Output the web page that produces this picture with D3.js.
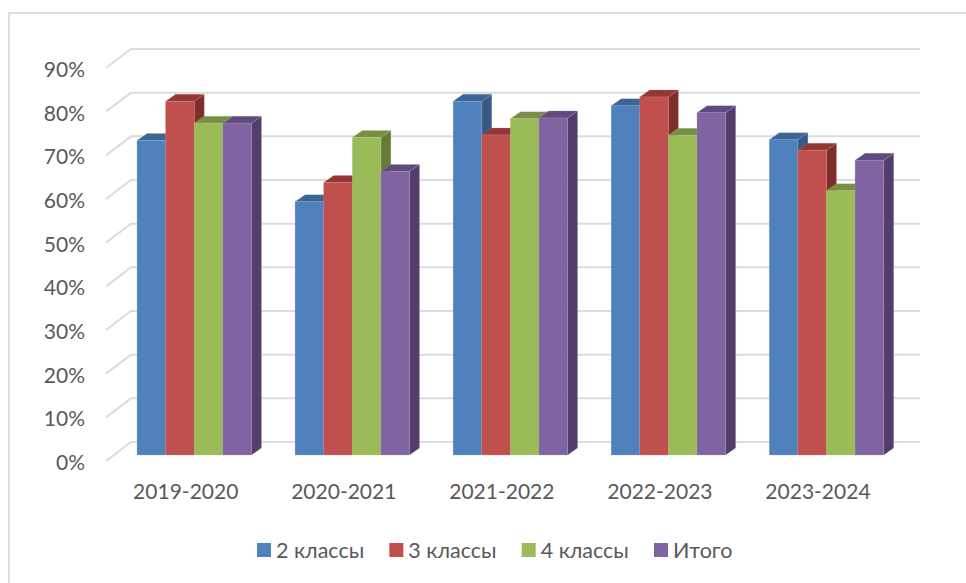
<!DOCTYPE html>
<html><head><meta charset="utf-8">
<script src="https://cdn.jsdelivr.net/npm/d3@7"></script>
<style>
html,body{margin:0;padding:0;background:#fff;overflow:hidden}
text{font-family:"Lato","Noto Sans",sans-serif;fill:#595959}
</style></head><body><svg id="c" width="966" height="583"></svg>
<script>
const categories = ["2019-2020","2020-2021","2021-2022","2022-2023","2023-2024"];
const seriesNames = ["2 классы","3 классы","4 классы","Итого"];
const klass2 = [72, 58, 81, 80, 72.2];
const klass3 = [81, 62.4, 73.3, 82, 69.8];
const klass4 = [76, 72.7, 77, 73.2, 60.5];
const itogo  = [76, 64.9, 77.2, 78.4, 67.5];
const yTicks = [0,10,20,30,40,50,60,70,80,90];

const seriesValues = [klass2, klass3, klass4, itogo];
const frontCol = ["#4f81bd","#c0504d","#9bbb59","#8064a2"];
const topCol   = ["#3b6593","#933634","#778f44","#614a7c"];
const sideCol  = ["#355a85","#7e2f2d","#657c39","#533e6b"];
const edgeCol  = ["#8ba9d3","#d58a88","#bcd28f","#a892c2"];

const svg = d3.select("#c");
const grid = "#dcdcdc";
const font = '"Lato","Noto Sans",sans-serif';

// chart frame
svg.append("path").attr("d","M9,583V13H966").attr("fill","none").attr("stroke",grid).attr("stroke-width",2);

const yBack  = d3.scaleLinear().domain([0,90]).range([442,49]);
const yFront = d3.scaleLinear().domain([0,90]).range([461,68]);
const yBar   = d3.scaleLinear().domain([0,90]).range([455,62]);
const xGroup = d3.scaleBand().domain(categories).range([115.2,905.5]).paddingInner(0.276).paddingOuter(0.138);
const xBar   = d3.scaleBand().domain(d3.range(4)).range([0,xGroup.bandwidth()]);

const xBackL = 131, xBackR = 920, xFrontL = 106, dx = 10, dy = 7;

// gridlines
const gGrid = svg.append("g");
yTicks.forEach(t=>{
  gGrid.append("path")
    .attr("d",`M${xFrontL},${yFront(t)}L${xBackL},${yBack(t)}H${xBackR}`)
    .attr("fill","none").attr("stroke",grid).attr("stroke-width",2);
});

// bars
const gBars = svg.append("g");
categories.forEach((c,i)=>{
  seriesValues.forEach((vals,s)=>{
    const x0 = xGroup(c)+xBar(s), x1 = x0+xBar.bandwidth();
    const yT = yBar(vals[i]), yB = yBar(0);
    const g = gBars.append("g");
    g.append("path").attr("d",`M${x1},${yT}L${x1+dx},${yT-dy}V${yB-dy}L${x1},${yB}Z`)
      .attr("fill",sideCol[s]).attr("stroke",edgeCol[s]).attr("stroke-width",0.5).attr("stroke-opacity",0.5);
    g.append("path").attr("d",`M${x0},${yT}L${x0+dx},${yT-dy}H${x1+dx}L${x1},${yT}Z`)
      .attr("fill",topCol[s]).attr("stroke",edgeCol[s]).attr("stroke-width",0.5).attr("stroke-opacity",0.5);
    g.append("rect").attr("x",x0).attr("y",yT).attr("width",x1-x0).attr("height",yB-yT)
      .attr("fill",frontCol[s]).attr("stroke",edgeCol[s]).attr("stroke-width",0.5).attr("stroke-opacity",0.6);
  });
});

// axes
const yAxis = d3.axisLeft(yFront).tickValues(yTicks).tickFormat(d=>d+"%").tickSize(0).tickPadding(0);
svg.append("g").attr("transform","translate(85,1.5)").call(yAxis)
  .call(g=>g.select(".domain").remove())
  .selectAll("text").style("font-size","21px").style("font-family",font).attr("dy","0.34em");

const xAxis = d3.axisBottom(xGroup).tickSize(0).tickPadding(0);
svg.append("g").attr("transform","translate(-8.5,482)").call(xAxis)
  .call(g=>g.select(".domain").remove())
  .selectAll("text").style("font-size","21px").style("font-family",font).attr("dy","0.8em");

// legend
const legendX = d3.scalePoint().domain(seriesNames).range([257,654]);
const leg = svg.append("g").selectAll("g").data(seriesNames).join("g")
  .attr("transform",d=>`translate(${legendX(d)},543)`);
leg.append("rect").attr("width",14).attr("height",14).attr("fill",(d,i)=>frontCol[i]);
leg.append("text").attr("x",19).attr("y",7).attr("dy","0.36em").style("font-size","21.5px").text(d=>d);
</script></body></html>
